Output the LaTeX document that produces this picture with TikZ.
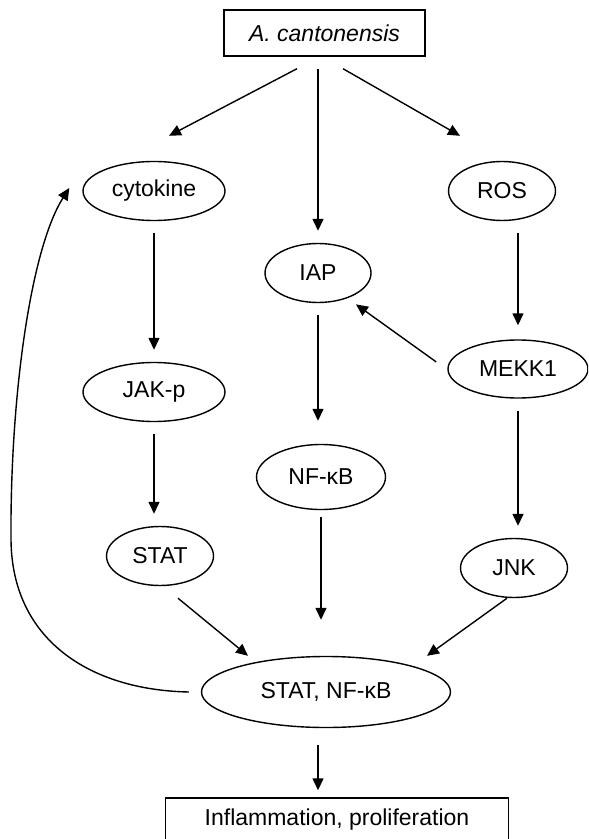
\documentclass[tikz,border=0pt]{standalone}
\usepackage{fontspec}
\setmainfont{Liberation Sans}
\usepackage{tikz}
\usetikzlibrary{shapes.geometric}
\usetikzlibrary{arrows.meta}
\tikzstyle{pathway}=[x=0.5pt, y=-0.5pt, line width=0.7pt, font=\fontsize{11.5}{13.8}\selectfont]
\tikzstyle{box}=[rectangle, inner sep=0pt, draw, fill=white]
\tikzstyle{mol}=[ellipse, inner sep=0pt, draw, fill=white, minimum height=29.5pt]
\tikzstyle{edge}=[-{Triangle[length=6pt,width=5.5pt]}]
\tikzstyle{gap}=[shorten >=6pt, shorten <=6pt]

\begin{document}
\begin{tikzpicture}[pathway]
			\clip (0,0) rectangle (588,839);
			\useasboundingbox (0,0) rectangle (588,839);
			\draw (324.5,33) node[box, minimum width=100.5pt, minimum height=23pt] (ac) {\itshape A. cantonensis};
			\draw (154,191) node[mol, minimum width=71pt] (cyto) {cytokine};
			\draw (318,273) node[mol, minimum width=53pt] (iap) {IAP};
			\draw (502,191) node[mol, minimum width=53.5pt] (ros) {ROS};
			\draw (154,392) node[mol, minimum width=71pt] (jak) {JAK-p};
			\draw (518,369) node[mol, minimum width=70pt, minimum height=29pt] (mekk) {MEKK1};
			\draw (321,477) node[mol, minimum width=64.5pt, minimum height=32.5pt] (nfkb) {NF-κB};
			\draw (160,556) node[mol, minimum width=53.5pt] (stat) {STAT};
			\draw (514,568) node[mol, minimum width=53.5pt] (jnk) {JNK};
			\draw (326,692) node[mol, minimum width=124.5pt, minimum height=35.5pt] (hub) {STAT, NF-κB};
			\draw (337,820) node[box, minimum width=171.5pt, minimum height=22pt] (out) {Inflammation, proliferation};
			% from the parasite
			\draw[edge] ([xshift=-13.75pt,yshift=-6pt]ac.south) -- ([xshift=7.5pt,yshift=12.5pt]cyto.north);
			\draw[edge, gap] (ac.south -| iap.north) -- (iap.north);
			\draw[edge] ([xshift=9.25pt,yshift=-6pt]ac.south) -- ([xshift=-21pt,yshift=12.5pt]ros.north);
			% left branch
			\draw[edge, gap] (cyto.south) -- (jak.north);
			\draw[edge, gap] (jak.south) -- (jak.south |- stat.north);
			% middle branch
			\draw[edge, shorten <=6pt, shorten >=11.5pt] (iap.south) -- (iap.south |- nfkb.north);
			\draw[edge, shorten <=3.5pt, shorten >=18pt] (nfkb.south) -- (nfkb.south |- hub.north);
			% right branch
			\draw[edge, shorten <=6pt, shorten >=7pt] (mekk.north |- ros.south) -- (mekk.north);
			\draw[edge] ([xshift=-5.5pt,yshift=3.5pt]mekk.west) -- ([yshift=-5pt]iap.south east);
			\draw[edge, gap] (mekk.south) -- (mekk.south |- jnk.north);
			% into the transcription factors
			\draw[edge] ([xshift=9pt,yshift=-6pt]stat.south) -- ([xshift=-39pt]hub.north);
			\draw[edge] ([xshift=-3.5pt]jnk.south) -- ([xshift=50.5pt]hub.north);
			\draw[edge] ([xshift=-4pt,yshift=-8.5pt]hub.south) -- ([xshift=-9.5pt,yshift=3.5pt]out.north);
			% feedback loop
			\draw[edge] ([xshift=-6pt]hub.west) .. controls (90,690) and (12,640) .. (11,540)
				.. controls (10,400) and (30,250) .. ([xshift=-6.5pt,yshift=1.5pt]cyto.west);
		\end{tikzpicture}
\end{document}
